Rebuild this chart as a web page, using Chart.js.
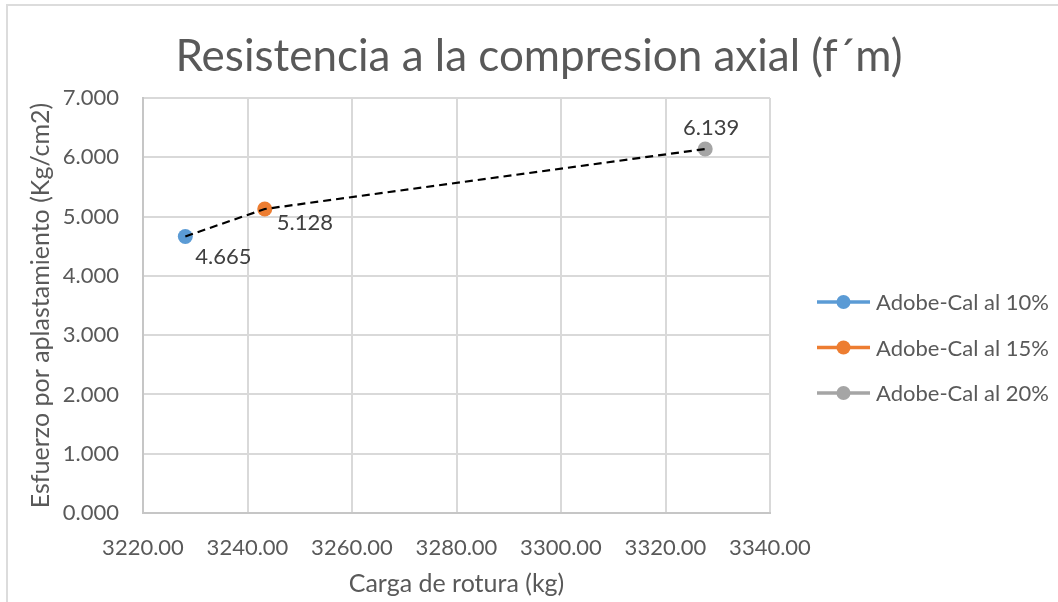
<!DOCTYPE html>
<html lang="es">
<head>
<meta charset="utf-8">
<title>Resistencia a la compresion axial</title>
<script src="https://cdn.jsdelivr.net/npm/chart.js@4.4.1/dist/chart.umd.min.js"></script>
<style>
  html, body { margin: 0; padding: 0; background: #ffffff; overflow: hidden; }
  #wrap { position: relative; width: 1058px; height: 602px; }
  #chart { position: absolute; left: 0; top: 0; }
  #frame {
    position: absolute; left: 6px; top: 4px; width: 1100px; height: 700px;
    border: 2px solid #dcdcdc; pointer-events: none; box-sizing: border-box;
  }
</style>
</head>
<body>
<div id="wrap">
  <canvas id="chart" width="1058" height="602"></canvas>
  <div id="frame"></div>
</div>
<script>
// Series: one point per mix
const seriesNames = ['Adobe-Cal al 10%', 'Adobe-Cal al 15%', 'Adobe-Cal al 20%'];
const cargaRotura = [3228.1, 3243.3, 3327.6];      // kg
const esfuerzo = [4.665, 5.128, 6.139];            // Kg/cm2
const seriesColors = ['#5b9bd5', '#ed7d31', '#a5a5a5'];

// Axis tick labels
const xTickLabels = ['3220.00', '3240.00', '3260.00', '3280.00', '3300.00', '3320.00', '3340.00'];
const yTickLabels = ['0.000', '1.000', '2.000', '3.000', '4.000', '5.000', '6.000', '7.000'];

const chartTitle = 'Resistencia a la compresion axial (f\u00B4m)';
const xTitle = 'Carga de rotura (kg)';
const yTitle = 'Esfuerzo por aplastamiento (Kg/cm2)';

const FONT = 'Lato, "Open Sans", "Noto Sans", sans-serif';
const TEXT = '#595959';

// Value label placement relative to each marker
const labelPlacement = [
  { dx: 10, dy: 20, align: 'left' },
  { dx: 12, dy: 14, align: 'left' },
  { dx: 6, dy: -21, align: 'center' }
];

const pointDatasets = seriesNames.map((name, i) => ({
  label: name,
  data: [{ x: cargaRotura[i], y: esfuerzo[i] }],
  backgroundColor: seriesColors[i],
  borderColor: seriesColors[i],
  pointRadius: 7.5,
  pointHoverRadius: 7.5,
  pointBorderWidth: 0,
  showLine: false
}));

// Dashed connector through all points, drawn above the markers
const connector = {
  label: '_connector',
  data: cargaRotura.map((x, i) => ({ x, y: esfuerzo[i] })),
  borderColor: '#000000',
  borderWidth: 2.2,
  borderDash: [8, 5],
  pointRadius: 0,
  showLine: true,
  fill: false,
  order: -1
};

const overlayPlugin = {
  id: 'overlay',
  afterDraw(chart) {
    const ctx = chart.ctx;
    ctx.save();

    // Title
    ctx.fillStyle = TEXT;
    ctx.font = '44px ' + FONT;
    ctx.textAlign = 'center';
    ctx.textBaseline = 'middle';
    ctx.fillText(chartTitle, 539, 57);

    // Value labels
    ctx.font = '22px ' + FONT;
    ctx.fillStyle = '#404040';
    seriesNames.forEach((_, i) => {
      const el = chart.getDatasetMeta(i).data[0];
      const p = labelPlacement[i];
      ctx.textAlign = p.align;
      ctx.textBaseline = 'middle';
      ctx.fillText(esfuerzo[i].toFixed(3), el.x + p.dx, el.y + p.dy);
    });

    // Legend
    const lx0 = 817, lx1 = 870, ly0 = 302, lstep = 45.5;
    ctx.font = '22px ' + FONT;
    ctx.textAlign = 'left';
    ctx.textBaseline = 'middle';
    seriesNames.forEach((name, i) => {
      const y = ly0 + i * lstep;
      ctx.strokeStyle = seriesColors[i];
      ctx.lineWidth = 3.5;
      ctx.beginPath();
      ctx.moveTo(lx0, y);
      ctx.lineTo(lx1, y);
      ctx.stroke();
      ctx.fillStyle = seriesColors[i];
      ctx.beginPath();
      ctx.arc((lx0 + lx1) / 2, y, 7, 0, Math.PI * 2);
      ctx.fill();
      ctx.fillStyle = TEXT;
      ctx.fillText(name, 876, y + 1);
    });

    ctx.restore();
  }
};

new Chart(document.getElementById('chart'), {
  type: 'scatter',
  data: { datasets: [...pointDatasets, connector] },
  options: {
    responsive: false,
    animation: false,
    events: [],
    devicePixelRatio: 1,
    layout: { padding: { top: 98, right: 288, bottom: 0, left: 0 } },
    plugins: {
      legend: { display: false },
      title: { display: false },
      tooltip: { enabled: false }
    },
    scales: {
      x: {
        type: 'linear',
        min: parseFloat(xTickLabels[0]),
        max: parseFloat(xTickLabels[xTickLabels.length - 1]),
        afterFit(scale) { scale.height = 89; },
        ticks: {
          stepSize: parseFloat(xTickLabels[1]) - parseFloat(xTickLabels[0]),
          callback: (v, i) => xTickLabels[i],
          color: TEXT,
          font: { family: FONT, size: 22 },
          padding: 22,
          maxRotation: 0,
          autoSkip: false
        },
        grid: { color: '#d9d9d9', lineWidth: 2, drawTicks: false },
        border: { color: '#c6c6c6', width: 2 },
        title: {
          display: true,
          text: xTitle,
          color: TEXT,
          font: { family: FONT, size: 25 },
          padding: { top: 0, bottom: 3 }
        }
      },
      y: {
        type: 'linear',
        min: parseFloat(yTickLabels[0]),
        max: parseFloat(yTickLabels[yTickLabels.length - 1]),
        afterFit(scale) { scale.width = 143; },
        ticks: {
          stepSize: parseFloat(yTickLabels[1]) - parseFloat(yTickLabels[0]),
          callback: (v, i) => yTickLabels[i],
          color: TEXT,
          font: { family: FONT, size: 22 },
          padding: 24,
          autoSkip: false
        },
        grid: { color: '#d9d9d9', lineWidth: 2, drawTicks: false },
        border: { color: '#c6c6c6', width: 2 },
        title: {
          display: true,
          text: yTitle,
          color: TEXT,
          font: { family: FONT, size: 25 },
          padding: { top: 26, bottom: 0 }
        }
      }
    }
  },
  plugins: [overlayPlugin]
});
</script>
</body>
</html>
